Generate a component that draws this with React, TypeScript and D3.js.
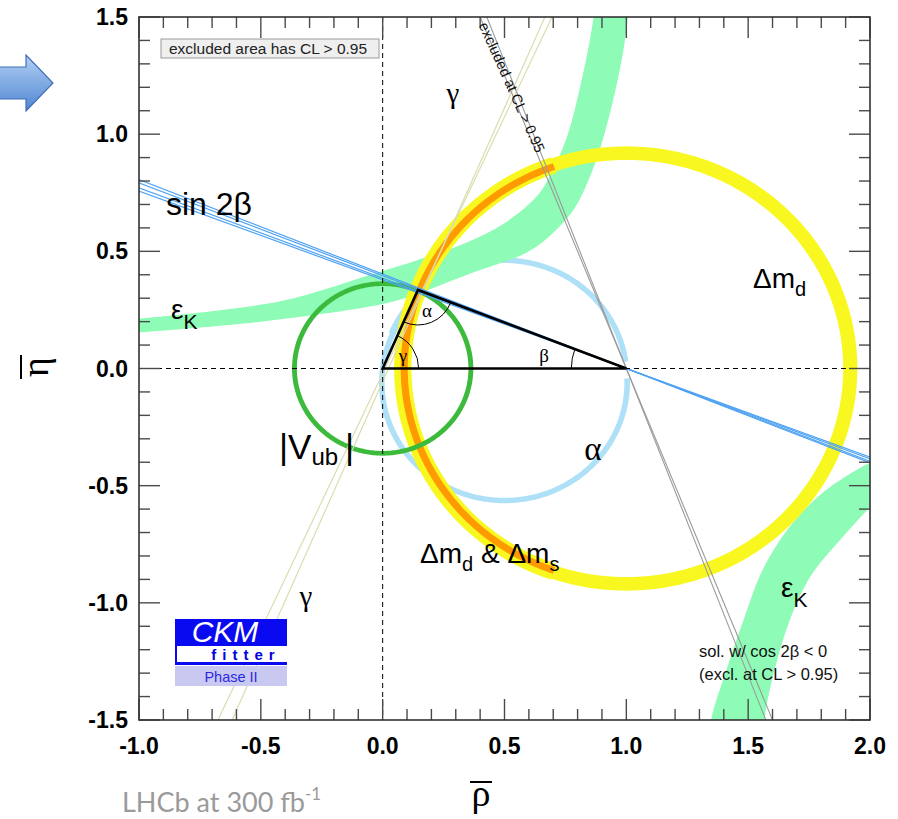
import React from 'react';
import * as d3 from 'd3';

// ---------- layout ----------
const W = 898;
const H = 819;
const plot = { left: 139, right: 870, top: 17, bottom: 720 };

// ---------- axis data ----------
const xDomain: [number, number] = [-1.0, 2.0];
const yDomain: [number, number] = [-1.5, 1.5];
const xTickValues = [-1.0, -0.5, 0.0, 0.5, 1.0, 1.5, 2.0];
const xTickLabels = ['-1.0', '-0.5', '0.0', '0.5', '1.0', '1.5', '2.0'];
const yTickValues = [-1.5, -1.0, -0.5, 0.0, 0.5, 1.0, 1.5];
const yTickLabels = ['-1.5', '-1.0', '-0.5', '0.0', '0.5', '1.0', '1.5'];
const minorStep = 0.1;

// ---------- unitarity triangle ----------
const triOrigin: [number, number] = [0.0, 0.0];
const triRight: [number, number] = [1.0, 0.0];
const triApex: [number, number] = [0.145, 0.335];

// ---------- ring-shaped constraints: [centerRho, centerEta, rInner, rOuter, startDeg, endDeg] ----------
const dmdRing = [1.0, 0.0, 0.89, 0.948, 0, 360];
const dmdDmsYellow = [1.0, 0.0, 0.882, 0.953, 109, 251];
const dmdDmsOrange = [1.0, 0.0, 0.897, 0.926, 109, 251];
const vubRing = [0.0, 0.0, 0.352, 0.372, 0, 360];
const alphaUpper = [0.5, -0.04, 0.49, 0.513, 8, 158];
const alphaLower = [0.5, -0.06, 0.492, 0.515, 140, 362];

// ---------- epsilon_K bands (edges: [rho, eta]) ----------
const epsKUpperTop: [number, number][] = [
  [-1.0, 0.213], [-0.42, 0.287], [-0.05, 0.4], [0.15, 0.465], [0.35, 0.54],
  [0.5, 0.62], [0.637, 0.74], [0.7, 0.85], [0.76, 1.0], [0.81, 1.2], [0.85, 1.4], [0.875, 1.56],
];
const epsKUpperBottom: [number, number][] = [
  [-1.0, 0.154], [-0.5, 0.2], [0.0, 0.275], [0.14, 0.318], [0.36, 0.405], [0.6, 0.5],
  [0.72, 0.6], [0.797, 0.7], [0.88, 0.9], [0.94, 1.12], [0.985, 1.34], [1.007, 1.5], [1.02, 1.6],
];
const epsKLowerLeft: [number, number][] = [
  [2.05, -0.385], [1.986, -0.41], [1.807, -0.529], [1.671, -0.674], [1.56, -0.858],
  [1.486, -1.058], [1.425, -1.242], [1.351, -1.485], [1.34, -1.56],
];
const epsKLowerRight: [number, number][] = [
  [2.05, -0.56], [2.007, -0.588], [1.879, -0.73], [1.766, -0.871], [1.70, -0.999],
  [1.64, -1.169], [1.589, -1.37], [1.569, -1.485], [1.565, -1.56],
];

// ---------- straight-line constraints ----------
// sin 2beta: eta = m * (1 - rho)
const sin2bSlopes = [0.403, 0.396, 0.3855, 0.3785];
// cos 2beta < 0 solution: eta = -s * (rho - 1)
const cos2bSlopes = [2.5, 2.62];
// gamma lines, each given by two points [rho, eta]
const gammaLines: [number, number][][] = [
  [[0.666, 1.5], [-0.618, -1.5]],
  [[0.695, 1.5], [-0.676, -1.5]],
];

// ---------- colours ----------
const C = {
  epsK: '#8efcb6',
  yellow: '#f8f820',
  orange: '#ff9a00',
  alpha: '#aee0f8',
  vub: '#3cba3c',
  sin2b: '#4ea2f2',
  gray: '#9a9a9a',
  gamma: '#dcdcb0',
};

const x = d3.scaleLinear().domain(xDomain).range([plot.left, plot.right]);
const y = d3.scaleLinear().domain(yDomain).range([plot.bottom, plot.top]);

const lineGen = d3
  .line<[number, number]>()
  .x((d) => x(d[0]))
  .y((d) => y(d[1]));

function arcPts(cx: number, cy: number, r: number, a0: number, a1: number): [number, number][] {
  const n = Math.max(2, Math.ceil(Math.abs(a1 - a0)));
  return d3.range(n + 1).map((i) => {
    const a = ((a0 + ((a1 - a0) * i) / n) * Math.PI) / 180;
    return [cx + r * Math.cos(a), cy + r * Math.sin(a)] as [number, number];
  });
}

function ringPath(spec: number[]): string {
  const [cx, cy, r0, r1, a0, a1] = spec;
  const full = Math.abs(a1 - a0) >= 360;
  const outer = arcPts(cx, cy, r1, a0, a1);
  const inner = arcPts(cx, cy, r0, a1, a0);
  if (full) {
    return (lineGen(outer) || '') + 'Z' + (lineGen(inner) || '') + 'Z';
  }
  return (lineGen(outer.concat(inner)) || '') + 'Z';
}

const curveLine = d3
  .line<[number, number]>()
  .x((d) => x(d[0]))
  .y((d) => y(d[1]))
  .curve(d3.curveCatmullRom.alpha(0.5));

function bandPath(edgeA: [number, number][], edgeB: [number, number][]): string {
  const a = curveLine(edgeA) || '';
  const b = curveLine(edgeB.slice().reverse()) || '';
  return a + 'L' + b.slice(1) + 'Z';
}

function angleArc(center: [number, number], p1: [number, number], p2: [number, number], rPx: number): string {
  const cx = x(center[0]);
  const cy = y(center[1]);
  const a1 = Math.atan2(y(p1[1]) - cy, x(p1[0]) - cx);
  const a2 = Math.atan2(y(p2[1]) - cy, x(p2[0]) - cx);
  const s = [cx + rPx * Math.cos(a1), cy + rPx * Math.sin(a1)];
  const e = [cx + rPx * Math.cos(a2), cy + rPx * Math.sin(a2)];
  let d = a2 - a1;
  while (d > Math.PI) d -= 2 * Math.PI;
  while (d < -Math.PI) d += 2 * Math.PI;
  const sweep = d > 0 ? 1 : 0;
  return `M${s[0]},${s[1]} A${rPx},${rPx} 0 0 ${sweep} ${e[0]},${e[1]}`;
}

const sans = "'Liberation Sans', Arial, Helvetica, sans-serif";
const serif = "'Liberation Serif', 'Times New Roman', 'DejaVu Serif', serif";

export default function App() {
  const xMinor = d3.range(Math.round((xDomain[1] - xDomain[0]) / minorStep) + 1).map((i) => xDomain[0] + i * minorStep);
  const yMinor = d3.range(Math.round((yDomain[1] - yDomain[0]) / minorStep) + 1).map((i) => yDomain[0] + i * minorStep);
  const isMajor = (v: number) => Math.abs(v * 2 - Math.round(v * 2)) < 1e-6;

  const ticks: JSX.Element[] = [];
  xMinor.forEach((v, i) => {
    const L = isMajor(v) ? 21 : 11;
    const px = x(v);
    ticks.push(<line key={'xb' + i} x1={px} x2={px} y1={plot.bottom} y2={plot.bottom - L} />);
    ticks.push(<line key={'xt' + i} x1={px} x2={px} y1={plot.top} y2={plot.top + L} />);
  });
  yMinor.forEach((v, i) => {
    const L = isMajor(v) ? 21 : 11;
    const py = y(v);
    ticks.push(<line key={'yl' + i} x1={plot.left} x2={plot.left + L} y1={py} y2={py} />);
    ticks.push(<line key={'yr' + i} x1={plot.right} x2={plot.right - L} y1={py} y2={py} />);
  });

  const sin2bLines = sin2bSlopes.map((m) => lineGen([[-1.2, m * 2.2], [2.2, -m * 1.2]]) || '');
  const cos2bLines = cos2bSlopes.map((s) => lineGen([[1 - 1.7 / s, 1.7], [1 + 1.7 / s, -1.7]]) || '');
  const gammaPaths = gammaLines.map((pts) => {
    const [p, q] = pts;
    const k = 0.1;
    const ext: [number, number][] = [
      [p[0] + (p[0] - q[0]) * k, p[1] + (p[1] - q[1]) * k],
      [q[0] + (q[0] - p[0]) * k, q[1] + (q[1] - p[1]) * k],
    ];
    return lineGen(ext) || '';
  });

  // gray rotated label geometry (along cos2b line)
  const gl0 = [x(1 - 1.5 / cos2bSlopes[0]), y(1.5)];
  const gl1 = [x(1), y(0)];
  const gAngle = (Math.atan2(gl1[1] - gl0[1], gl1[0] - gl0[0]) * 180) / Math.PI - 1.5;

  return (
    <svg
      width={W}
      height={H}
      viewBox={`0 0 ${W} ${H}`}
      style={{ position: 'absolute', left: 0, top: 0, background: '#fff' }}
    >
      <defs>
        <clipPath id="plotClip">
          <rect x={plot.left} y={plot.top} width={plot.right - plot.left} height={plot.bottom - plot.top} />
        </clipPath>
        <linearGradient id="arrowGrad" x1="0" y1="0" x2="0" y2="1">
          <stop offset="0%" stopColor="#b4d0f4" />
          <stop offset="100%" stopColor="#4f86d2" />
        </linearGradient>
      </defs>

      {/* arrow at top-left */}
      <path
        d="M-2,67 L26,67 L26,55 L53,83 L26,111 L26,99 L-2,99 Z"
        fill="url(#arrowGrad)"
        stroke="#3f6fb6"
        strokeWidth={1.2}
      />

      <g clipPath="url(#plotClip)">
        {/* alpha arcs */}
        <path d={ringPath(alphaLower)} fill={C.alpha} />
        <path d={ringPath(alphaUpper)} fill={C.alpha} />
        {/* epsilon K */}
        <path d={bandPath(epsKUpperTop, epsKUpperBottom)} fill={C.epsK} />
        <path d={bandPath(epsKLowerLeft, epsKLowerRight)} fill={C.epsK} />
        {/* delta m_d */}
        <path d={ringPath(dmdRing)} fill={C.yellow} fillRule="evenodd" />
        <path d={ringPath(dmdDmsYellow)} fill={C.yellow} />
        <path d={ringPath(dmdDmsOrange)} fill={C.orange} />
        {/* |Vub| */}
        <path d={ringPath(vubRing)} fill={C.vub} fillRule="evenodd" />
        {/* gamma lines */}
        {gammaPaths.map((d, i) => (
          <path key={'g' + i} d={d} stroke={C.gamma} strokeWidth={1.2} fill="none" />
        ))}
        {/* cos2b<0 excluded lines */}
        {cos2bLines.map((d, i) => (
          <path key={'c' + i} d={d} stroke={C.gray} strokeWidth={1.1} fill="none" />
        ))}
        {/* sin 2beta */}
        {sin2bLines.map((d, i) => (
          <path key={'s' + i} d={d} stroke={C.sin2b} strokeWidth={1.2} fill="none" />
        ))}
        {/* dashed axes */}
        <line x1={x(0)} x2={x(0)} y1={plot.top} y2={plot.bottom} stroke="#000" strokeWidth={1} strokeDasharray="5,4" />
        <line x1={plot.left} x2={plot.right} y1={y(0)} y2={y(0)} stroke="#000" strokeWidth={1} strokeDasharray="5,4" />
        {/* triangle */}
        <path
          d={(lineGen([triOrigin, triApex, triRight, triOrigin]) || '') + 'Z'}
          fill="none"
          stroke="#000"
          strokeWidth={2.6}
          strokeLinejoin="miter"
        />
        <path d={angleArc(triOrigin, triRight, triApex, 36)} fill="none" stroke="#000" strokeWidth={1} />
        <path d={angleArc(triApex, triOrigin, triRight, 35)} fill="none" stroke="#000" strokeWidth={1} />
        <path d={angleArc(triRight, triOrigin, triApex, 55)} fill="none" stroke="#000" strokeWidth={1} />
      </g>

      {/* triangle angle labels */}
      <g fontFamily={serif} fontSize={19} fill="#000">
        <text x={403} y={362} textAnchor="middle">γ</text>
        <text x={427} y={317} textAnchor="middle">α</text>
        <text x={544} y={362} textAnchor="middle">β</text>
      </g>

      {/* frame and ticks */}
      <g stroke="#4a4a4a" strokeWidth={1.4}>{ticks}</g>
      <rect
        x={plot.left}
        y={plot.top}
        width={plot.right - plot.left}
        height={plot.bottom - plot.top}
        fill="none"
        stroke="#333"
        strokeWidth={1.6}
      />

      {/* tick labels */}
      <g fontFamily={sans} fontWeight="bold" fontSize={23} fill="#000">
        {xTickValues.map((v, i) => (
          <text key={'xl' + i} x={x(v)} y={754} textAnchor="middle">
            {xTickLabels[i]}
          </text>
        ))}
        {yTickValues.map((v, i) => (
          <text key={'yl' + i} x={128} y={y(v) + 8} textAnchor="end">
            {yTickLabels[i]}
          </text>
        ))}
      </g>

      {/* axis titles */}
      <g transform="translate(40,367) rotate(-90)">
        <text x={0} y={8} textAnchor="middle" fontFamily={serif} fontSize={38} fill="#000">η</text>
        <line x1={-12} x2={12} y1={-19} y2={-19} stroke="#000" strokeWidth={2} />
      </g>
      <g transform="translate(481,0)">
        <text x={0} y={806} textAnchor="middle" fontFamily={serif} fontSize={38} fill="#000">ρ</text>
        <line x1={-11} x2={11} y1={782} y2={782} stroke="#000" strokeWidth={2} />
      </g>

      {/* legend box */}
      <rect x={161} y={39} width={218} height={19} fill="#efefef" stroke="#9a9a9a" strokeWidth={1} />
      <text x={169} y={54} fontFamily={sans} fontSize={15.5} fill="#222">excluded area has CL &gt; 0.95</text>

      {/* constraint labels */}
      <g fontFamily={sans} fill="#000">
        <text x={166} y={215} fontSize={32}>sin 2β</text>
        <text x={171} y={319} fontSize={28}>ε<tspan fontSize={21} dy={10}>K</tspan></text>
        <text x={781} y={597} fontSize={28}>ε<tspan fontSize={21} dy={10}>K</tspan></text>
        <text x={753} y={288} fontSize={28}>Δm<tspan fontSize={20} dy={8}>d</tspan></text>
        <text x={420} y={563} fontSize={28}>
          Δm<tspan fontSize={20} dy={8}>d</tspan>
          <tspan dy={-8}> &amp; Δm</tspan>
          <tspan fontSize={20} dy={8}>s</tspan>
        </text>
        <text x={279} y={459} fontSize={35}>
          |V<tspan fontSize={24} dy={6}>ub</tspan>
        </text>
        <text x={345} y={459} fontSize={35}>|</text>
      </g>
      <g fontFamily={serif} fill="#000">
        <text x={593} y={460} fontSize={33} textAnchor="middle">α</text>
        <text x={453} y={103} fontSize={29} textAnchor="middle">γ</text>
        <text x={306} y={606} fontSize={29} textAnchor="middle">γ</text>
      </g>

      {/* rotated excluded label */}
      <text
        transform={`translate(${gl0[0] + 3},${gl0[1] + 6}) rotate(${gAngle})`}
        fontFamily={sans}
        fontSize={14.5}
        fill="#111"
        dominantBaseline="central"
      >
        excluded at CL &gt; 0.95
      </text>

      {/* cos 2beta note */}
      <g fontFamily={sans} fontSize={16.5} fill="#111">
        <text x={699} y={657}>sol. w/ cos 2β &lt; 0</text>
        <text x={699} y={680}>(excl. at CL &gt; 0.95)</text>
      </g>

      {/* CKMfitter logo */}
      <g>
        <rect x={175} y={619} width={112} height={46} fill="#0a0af0" />
        <rect x={177} y={646} width={110} height={16} fill="#fff" />
        <text x={225} y={642} textAnchor="middle" fontFamily={sans} fontStyle="italic" fontSize={30} fill="#fff">CKM</text>
        <text x={246} y={660} textAnchor="middle" fontFamily={sans} fontWeight="bold" fontSize={15} letterSpacing={6} fill="#0000e0">fitter</text>
        <rect x={175} y={666} width={112} height={20} fill="#c8c8f0" />
        <text x={231} y={682} textAnchor="middle" fontFamily={sans} fontSize={14.5} fill="#2a2ae0">Phase II</text>
      </g>

      {/* bottom-left caption */}
      <text x={122} y={812} fontFamily="Lato, 'Open Sans', sans-serif" fontSize={27} fill="#9a9a9a">
        LHCb at 300 fb<tspan fontSize={17} dy={-12}>-1</tspan>
      </text>
    </svg>
  );
}
